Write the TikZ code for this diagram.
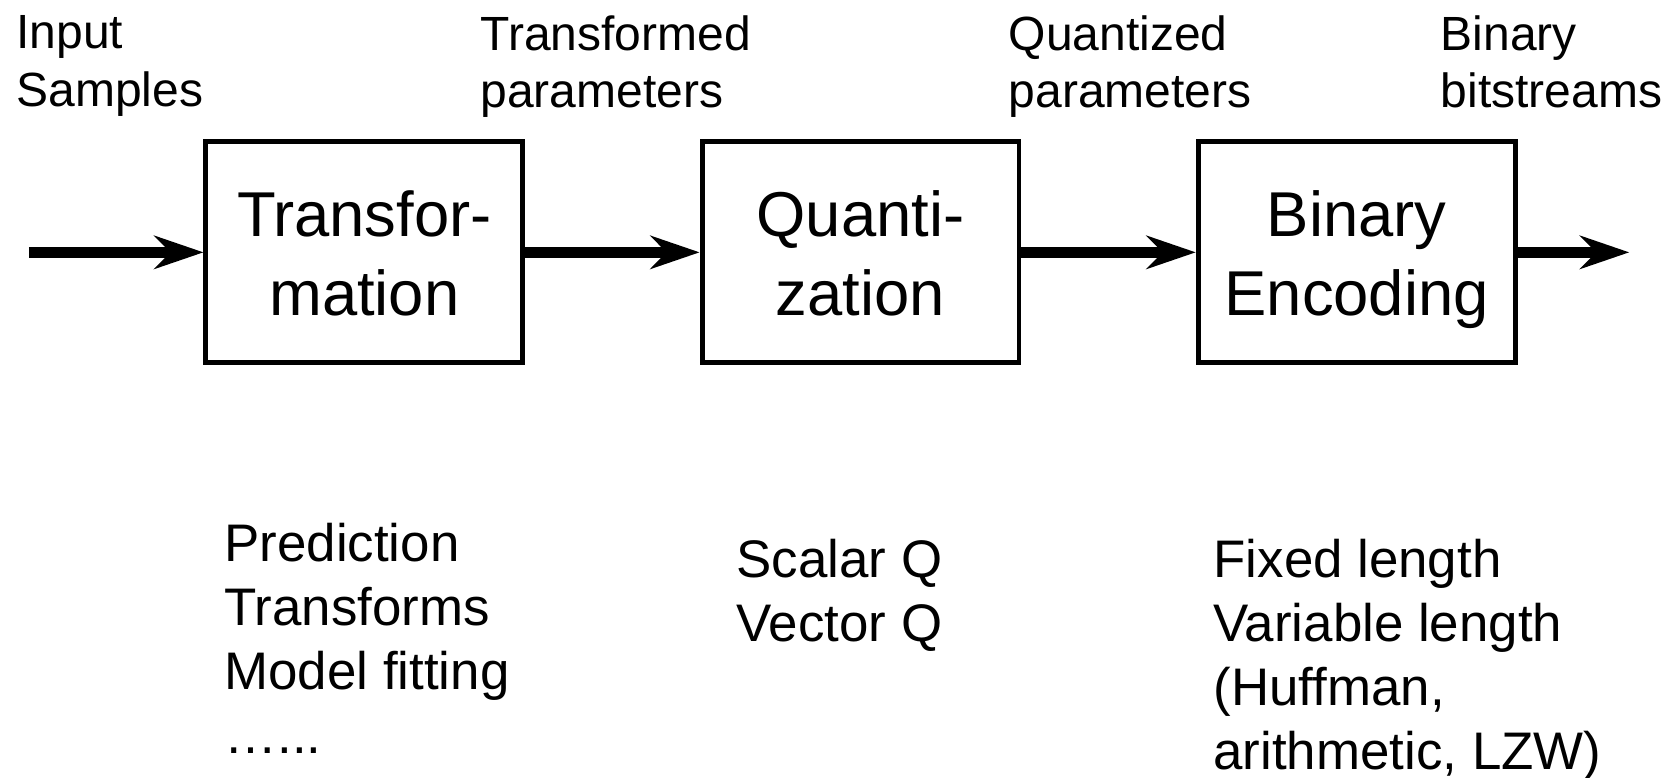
\documentclass[tikz,border=0pt]{standalone}
\usepackage{xcolor}
\usepackage{fontspec}
\setmainfont{Liberation Sans}
\usetikzlibrary{arrows.meta}
\newcommand{\blockstrut}{\rule[-8pt]{0pt}{41.3pt}}

\begin{document}
\begin{tikzpicture}[node distance=9.3cm,
  >={Stealth[length=0.92cm,width=0.62cm,inset=0.3cm]},
  block/.style={rectangle, minimum width=5.94cm, minimum height=4.14cm, text centered, align=center, draw=black, line width=2.6pt, font=\fontsize{33.8}{41}\selectfont},
  toplabel/.style={anchor=north west, inner sep=0pt, align=left, font=\fontsize{25.6}{30.5}\selectfont},
  listlabel/.style={anchor=north west, inner sep=0pt, align=left, font=\fontsize{28.2}{34.2}\selectfont},
  flowline/.style={->, line width=5.6pt}]
\useasboundingbox (0,0) rectangle (31.36,-14.58);

\node (transform) [block] at (6.83,-4.73) {\blockstrut Transfor-\\\blockstrut mation};

\node (quant) [block, right of=transform] {\blockstrut Quanti-\\\blockstrut zation};

\node (encode) [block, right of=quant] {\blockstrut Binary\\\blockstrut Encoding};

\coordinate (src) at (0.54,-4.73);
\coordinate (sink) at (30.54,-4.73);

\node (input) [toplabel] at (0.30,-0.29) {Input\\Samples};
\node (tparams) [toplabel] at (9.0,-0.29) {Transformed\\parameters};
\node (qparams) [toplabel] at (18.9,-0.29) {Quantized\\parameters};
\node (bits) [toplabel] at (27.0,-0.29) {Binary\\bitstreams};

\node (translist) [listlabel] at (4.2,-9.8) {Prediction\\Transforms\\Model fitting\\…...};
\node (quantlist) [listlabel] at (13.8,-10.1) {Scalar Q\\Vector Q};
\node (enclist) [listlabel] at (22.74,-10.1) {Fixed length\\Variable length\\(Huffman,\\arithmetic, LZW)};

\draw[flowline] (src) -- (transform);
\draw[flowline] (transform) -- (quant);
\draw[flowline] (quant) -- (encode);
\draw[flowline] (encode) -- (sink);

\end{tikzpicture}
\end{document}
